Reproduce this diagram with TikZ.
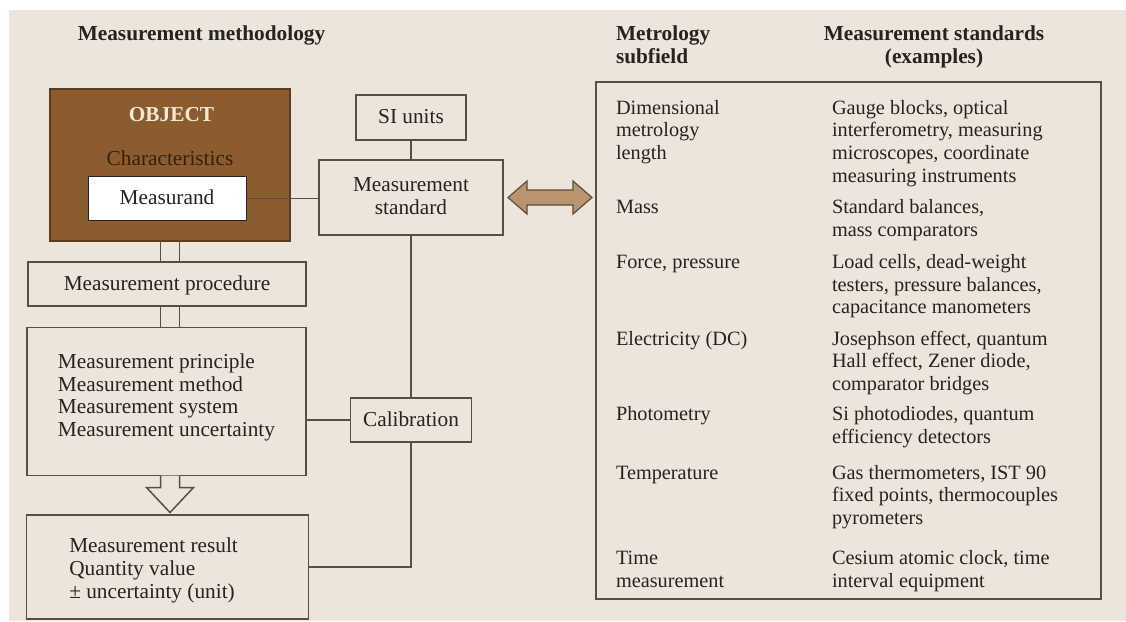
\documentclass[tikz,border=0pt]{standalone}
\usepackage{fontspec}
\setmainfont{Liberation Serif}
\definecolor{cream}{RGB}{237,229,219}
\definecolor{linecol}{RGB}{88,78,68}
\definecolor{objbrown}{RGB}{138,92,48}
\definecolor{objedge}{RGB}{92,60,26}
\definecolor{objtext}{RGB}{247,232,205}
\definecolor{chartext}{RGB}{52,32,12}
\definecolor{arrowfill}{RGB}{186,148,108}
\definecolor{ink}{RGB}{38,34,32}
\tikzset{
  every node/.style={inner sep=0pt, outer sep=0pt, text=ink},
  boxtext/.style={font=\fontsize{21.3}{22.7}\selectfont},
  tabtext/.style={font=\fontsize{20.3}{22.7}\selectfont, align=left, anchor=north west, text height=15pt},
  lines2/.style={text height=37.7pt},
  lines3/.style={text height=60.4pt},
  lines4/.style={text height=83.1pt},
  headtext/.style={font=\bfseries\fontsize{21.3}{23.3}\selectfont, text height=15pt, anchor=north},
  headtwo/.style={headtext, text height=38.3pt},
  plainbox/.style={draw=linecol, line width=1.5pt, boxtext, text height=15pt, text depth=3pt},
  link/.style={draw=linecol, line width=1.5pt},
}
\begin{document}
\begin{tikzpicture}[x=1pt,y=-1pt]
\useasboundingbox (0,0) rectangle (1126,621);
\fill[white] (0,0) rectangle (1126,621);
\fill[cream] (9,10) rectangle (1126,621);

% left header
\node[headtext] (title) at (201.5,25.5) {Measurement methodology};

% object block
\node[draw=objedge, line width=1.5pt, fill=objbrown, minimum width=240pt, minimum height=152pt] (object) at (170,165) {};
\node[headtext, text=objtext] (objlabel) at (171.5,106.7) {OBJECT};
\node[boxtext, text=chartext, text height=15pt, anchor=north] (chars) at (170,150) {Characteristics};
\node[plainbox, draw=ink, line width=1pt, fill=white, minimum width=158pt, minimum height=44pt] (measurand) at (167,198.5) {Measurand};

% standards column
\node[plainbox, minimum width=110pt, minimum height=45pt] (si) at (411,117.5) {SI units};
\node[plainbox, align=center, text height=37.7pt, text depth=3.9pt, minimum width=184pt, minimum height=75pt] (std) at (411,197.5) {Measurement\\standard};
\node[plainbox, minimum width=121pt, minimum height=44pt] (cal) at (411,420) {Calibration};

% procedure column
\node[plainbox, minimum width=278pt, minimum height=44pt] (proc) at (167,284) {Measurement procedure};
\node[plainbox, align=left, text height=83.1pt, text depth=13.3pt, minimum width=279pt, minimum height=148pt] (prin) at (166.5,401.5) {Measurement principle\\Measurement method\\Measurement system\\Measurement uncertainty};
\node[plainbox, align=flush left, text width=196.4pt, text height=15pt, text depth=43.6pt, minimum width=282pt, minimum height=104pt] (res) at (167.5,567) {Measurement result\\Quantity value\\± uncertainty (unit)};

% connectors
\draw[link] (measurand.east) -- (measurand.east -| std.west);
\draw[link] (si.south) -- (std.north);
\draw[link] (std.south) -- (cal.north);
\draw[link] (cal.south) |- (res.east);
\draw[link] (cal.west) -- (cal.west -| prin.east);
\draw[link] ([xshift=-9.5pt]object.south) -- ([xshift=-9.5pt]object.south |- proc.north);
\draw[link] ([xshift=9.5pt]object.south) -- ([xshift=9.5pt]object.south |- proc.north);
\draw[link] ([xshift=-9.5pt]object.south |- proc.south) -- ([xshift=-9.5pt]object.south |- prin.north);
\draw[link] ([xshift=9.5pt]object.south |- proc.south) -- ([xshift=9.5pt]object.south |- prin.north);
\draw[link, fill=cream, line join=miter] ([xshift=-9.5pt]object.south |- prin.south) -- ++(0,12) -- ++(-14,0) -- ++(23.5,25) -- ++(23.5,-25) -- ++(-14,0) -- ++(0,-12);

% table
\node[draw=linecol, line width=1.5pt, minimum width=505pt, minimum height=517pt] (tbl) at (848.5,340.5) {};
\draw[draw=linecol, line width=1.2pt, fill=arrowfill, line join=miter]
  ([xshift=5pt]std.east) -- ++(19,-16.5) -- ++(0,9) -- ++(46,0) -- ++(0,-9) -- ++(19,16.5)
  -- ++(-19,16.5) -- ++(0,-9) -- ++(-46,0) -- ++(0,9) -- cycle;

\node[headtwo, anchor=north west, align=left] (hsub) at (616,25) {Metrology\\subfield};
\node[headtwo, align=center] (hstd) at (934,25) {Measurement standards\\(examples)};

\node[tabtext, lines3] (f1) at (616,99) {Dimensional\\metrology\\length};
\node[tabtext, lines4] (s1) at (832,99) {Gauge blocks, optical\\interferometry, measuring\\microscopes, coordinate\\measuring instruments};
\node[tabtext] (f2) at (616,198.5) {Mass};
\node[tabtext, lines2] (s2) at (832,198.5) {Standard balances,\\mass comparators};
\node[tabtext] (f3) at (616,253.5) {Force, pressure};
\node[tabtext, lines3] (s3) at (832,253.5) {Load cells, dead-weight\\testers, pressure balances,\\capacitance manometers};
\node[tabtext] (f4) at (616,330) {Electricity (DC)};
\node[tabtext, lines3] (s4) at (832,330) {Josephson effect, quantum\\Hall effect, Zener diode,\\comparator bridges};
\node[tabtext] (f5) at (616,405.7) {Photometry};
\node[tabtext, lines2] (s5) at (832,405.7) {Si photodiodes, quantum\\efficiency detectors};
\node[tabtext] (f6) at (616,464) {Temperature};
\node[tabtext, lines3] (s6) at (832,464) {Gas thermometers, IST 90\\fixed points, thermocouples\\pyrometers};
\node[tabtext, lines2] (f7) at (616,549.3) {Time\\measurement};
\node[tabtext, lines2] (s7) at (832,549.3) {Cesium atomic clock, time\\interval equipment};
\end{tikzpicture}
\end{document}
